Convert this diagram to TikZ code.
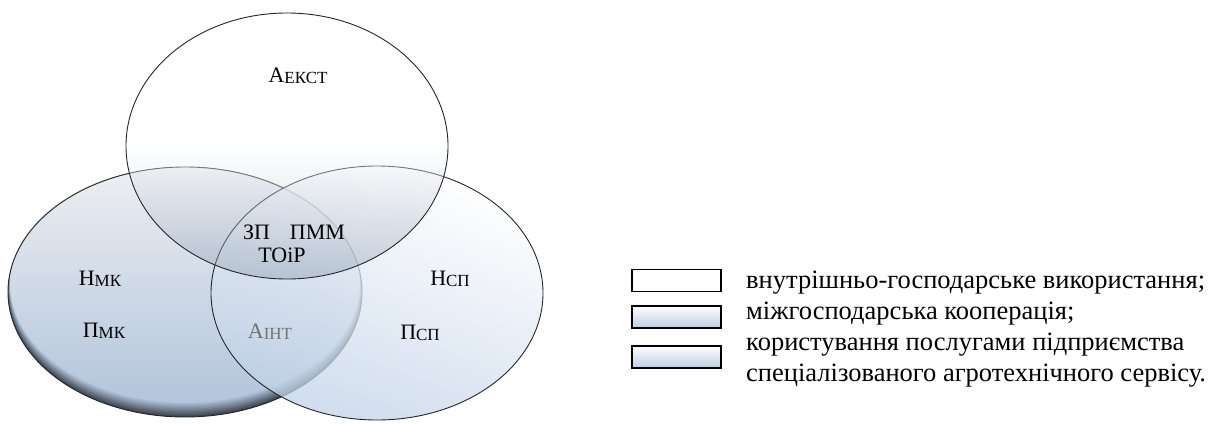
\documentclass[tikz,border=0pt]{standalone}
\usepackage{fontspec}
\setmainfont{Liberation Serif}
\newfontfamily\tnr{Liberation Serif}
\definecolor{rimdark}{HTML}{3E4651}
\definecolor{leftbot}{HTML}{B3C5DC}
\definecolor{lefttop}{HTML}{EDEFF2}
\definecolor{rightbot}{HTML}{BFD1E7}
\definecolor{topbot}{HTML}{8596AC}
\definecolor{legbot}{HTML}{BCCDE2}
\newcommand\lsub[1]{\raisebox{-1.5pt}{\fontsize{17}{20}\selectfont #1}}
\begin{document}
\begin{tikzpicture}[x=1pt,y=-1pt,
  lbl/.style={font=\tnr\fontsize{22}{26}\selectfont, inner sep=0pt, anchor=base},
  leg/.style={font=\tnr\fontsize{26.5}{31}\selectfont, inner sep=0pt, anchor=base west},
  legbox/.style={draw=black, line width=1.3pt, minimum width=89pt, minimum height=22pt, inner sep=0pt},
  outline/.style={draw=black!85, line width=0.9pt}]
\useasboundingbox (0,0) rectangle (1217,423);

% left ellipse with dark bevel at the bottom
\foreach \i in {0,...,10} {
  \pgfmathsetmacro{\mixv}{\i*10}
  \pgfmathsetmacro{\cy}{292-\i*0.7}
  \pgfmathsetmacro{\rx}{177-\i*0.2}
  \pgfmathsetmacro{\ry}{125-\i*0.7}
  \fill[leftbot!\mixv!rimdark] (185,\cy) ellipse [x radius=\rx pt, y radius=\ry pt];
}
\shade[top color=lefttop, bottom color=leftbot] (185,284.3) ellipse [x radius=174.8pt, y radius=117.3pt];
\draw[outline] (185,292) ellipse [x radius=177pt, y radius=125pt];

% right ellipse
\shadedraw[outline, fill opacity=0.75, top color=white, bottom color=rightbot, shading angle=-20]
  (377,293) ellipse [x radius=166pt, y radius=127pt];

% top ellipse
\shadedraw[outline, fill opacity=0.4, top color=white, bottom color=topbot, middle color=white]
  (287,146) ellipse [x radius=161pt, y radius=133pt];

% labels
\node[lbl] (aekst) at (298,82) {А\lsub{ЕКСТ}};
\node[lbl] (zp) at (294,239) {ЗП\hspace{20pt}ПММ};
\node[lbl] (toir) at (282,262) {ТОіР};
\node[lbl] (nmk) at (100,285) {Н\lsub{МК}};
\node[lbl] (pmk) at (104,337) {П\lsub{МК}};
\node[lbl, text=black!55] (aint) at (270,338) {А\lsub{ІНТ}};
\node[lbl] (nsp) at (450,285) {Н\lsub{СП}};
\node[lbl] (psp) at (420,339) {П\lsub{СП}};

% legend
\node[legbox, fill=white] (b1) at (676.5,280.5) {};
\node[legbox, top color=white, bottom color=legbot] (b2) at (676.5,317) {};
\node[legbox, top color=white, bottom color=legbot] (b3) at (676.5,357) {};
\node[leg] (l1) at (746,288) {внутрішньо-господарське використання;};
\node[leg] (l2) at (746,319) {міжгосподарська кооперація;};
\node[leg] (l3) at (746,350) {користування послугами підприємства};
\node[leg] (l4) at (746,381) {спеціалізованого агротехнічного сервісу.};
\end{tikzpicture}
\end{document}
